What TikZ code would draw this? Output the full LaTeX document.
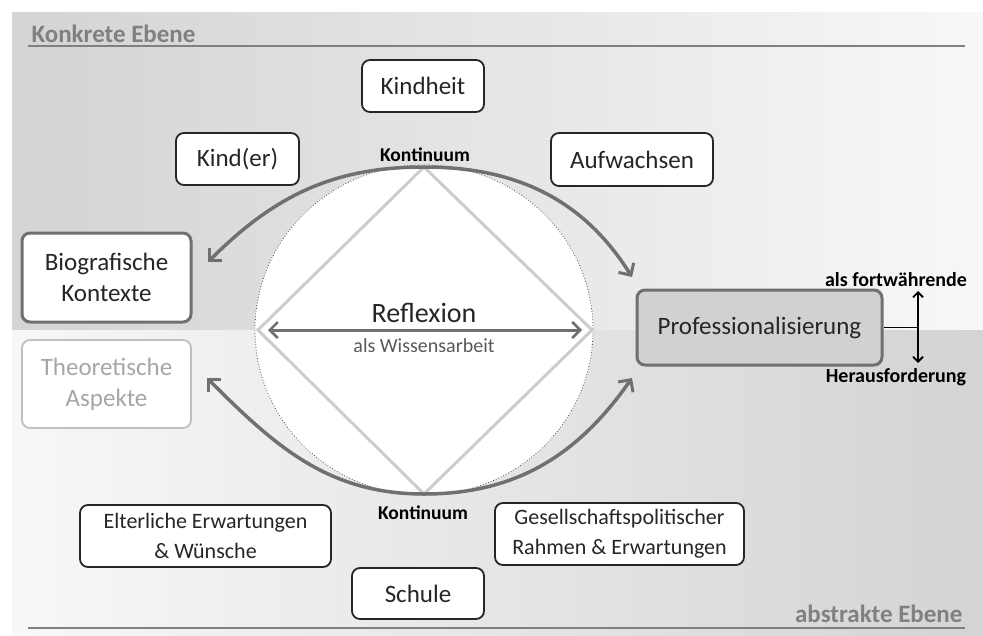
\documentclass[tikz,border=0pt]{standalone}
\usepackage{fontspec}
\setmainfont{Carlito}
\usetikzlibrary{arrows.meta}
\definecolor{arcgray}{HTML}{707070}
\definecolor{diagray}{HTML}{CDCDCD}
\definecolor{labgray}{HTML}{808080}
\tikzset{
  box/.style={draw=black!85, line width=1.8pt, rounded corners=8pt, fill=white, align=center, inner sep=0pt, text=black!85},
  bigtxt/.style={font=\fontsize{25}{31}\selectfont},
  smalltxt/.style={font=\fontsize{22}{30}\selectfont},
  arcline/.style={draw=arcgray, line width=3.5pt, {Straight Barb[length=9pt,width=18pt,line width=3pt]}-{Straight Barb[length=9pt,width=18pt,line width=3pt]}},
  kont/.style={font=\fontsize{19.5}{22}\selectfont\bfseries, text=black},
  level/.style={font=\fontsize{25}{28}\selectfont\bfseries, text=labgray},
}
\begin{document}
\begin{tikzpicture}[x=1pt,y=-1pt]
\useasboundingbox (0,0) rectangle (983,635);
% background bands
\shade[left color=black!17, right color=black!3] (12,12) rectangle (983,330);
\shade[left color=black!3, right color=black!17] (12,330) rectangle (983,635);
% level labels
\node[level, anchor=west] (konk) at (28,34) {Konkrete Ebene};
\draw[labgray, line width=2pt] (28,46) -- (965,46);
\node[level, anchor=east] (abst) at (966,614) {abstrakte Ebene};
\draw[labgray, line width=2pt] (28,628) -- (965,628);
% circle and diamond
\draw[black!70, line width=0.8pt, dotted, fill=white] (424,330) ellipse [x radius=169, y radius=165];
\coordinate (dt) at (424,167);
\coordinate (dr) at (592,330);
\coordinate (db) at (424,494);
\coordinate (dl) at (258,330);
\draw[diagray, line width=3pt, line join=miter] (dt) -- (dr) -- (db) -- (dl) -- cycle;
% Reflexion
\coordinate (rl) at (268,330);
\coordinate (rr) at (582,330);
\draw[arcgray, line width=3pt, {Straight Barb[length=8pt,width=16pt,line width=2.5pt]}-{Straight Barb[length=8pt,width=16pt,line width=2.5pt]}] (rl) -- (rr);
\node[font=\fontsize{28}{30}\selectfont, text=black!85] (refl) at (424,313) {Reflexion};
\node[font=\fontsize{20}{22}\selectfont, text=black!65] (wiss) at (424,346) {als Wissensarbeit};
% Kontinuum labels
\node[kont] (k1) at (425,155) {Kontinuum};
\node[kont] (k2) at (423,513) {Kontinuum};
% boxes
\node[box, bigtxt, minimum width=122, minimum height=52] (kindheit) at (423,86) {Kindheit};
\node[box, bigtxt, minimum width=123, minimum height=52] (kinder) at (237.5,159) {Kind(er)};
\node[box, bigtxt, minimum width=162, minimum height=53] (aufw) at (632,159.5) {Aufwachsen};
\node[box, bigtxt, draw=arcgray, line width=3pt, minimum width=169, minimum height=89] (bio) at (106.5,277.5) {Biografische\\Kontexte};
\node[box, bigtxt, draw=black!25, text=black!35, minimum width=169, minimum height=88] (theo) at (106.5,384) {Theoretische\\Aspekte};
\node[box, bigtxt, draw=arcgray, line width=3pt, fill=black!18, minimum width=245, minimum height=75] (prof) at (759.5,327.5) {Professionalisierung};
\node[box, smalltxt, minimum width=251, minimum height=62] (elt) at (205.5,536) {Elterliche Erwartungen\\\& Wünsche};
\node[box, smalltxt, minimum width=249, minimum height=62] (ges) at (619.5,534) {Gesellschaftspolitischer\\Rahmen \& Erwartungen};
\node[box, bigtxt, minimum width=132, minimum height=51] (schule) at (418,593.5) {Schule};
% big arcs
\coordinate (tl) at (208,262);
\coordinate (tr) at (632,277);
\coordinate (bl) at (207,378);
\coordinate (br) at (632,378);
\draw[arcline] (tl) to[out=45,in=180] (dt) to[out=0,in=122] (tr);
\draw[arcline] (bl) to[out=-45,in=180] (db) to[out=0,in=-125] (br);
% Professionalisierung challenge
\coordinate (pj) at (918,327.5);
\coordinate (pu) at (918,291);
\coordinate (pd) at (918,363);
\draw[black, line width=1.8pt] (prof.east) -- (pj);
\draw[black, line width=1.8pt, {Straight Barb[length=5pt,width=10pt]}-{Straight Barb[length=5pt,width=10pt]}] (pu) -- (pd);
\node[font=\fontsize{20}{22}\selectfont\bfseries] (fort) at (896,280) {als fortwährende};
\node[font=\fontsize{20}{22}\selectfont\bfseries] (hera) at (896,377) {Herausforderung};
\end{tikzpicture}
\end{document}
